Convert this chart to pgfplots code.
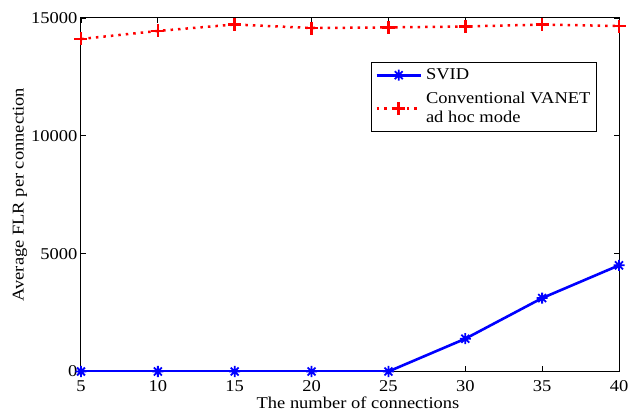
\documentclass[border=0pt]{standalone}
\usepackage{fontspec}
\setmainfont[FakeStretch=1.12]{Liberation Serif}
\usepackage{pgfplots}
\pgfplotsset{compat=1.18}
\pgfdeclareplotmark{mstar}{%
  \pgfpathmoveto{\pgfqpoint{-\pgfplotmarksize}{0pt}}\pgfpathlineto{\pgfqpoint{\pgfplotmarksize}{0pt}}%
  \pgfpathmoveto{\pgfqpoint{0pt}{-\pgfplotmarksize}}\pgfpathlineto{\pgfqpoint{0pt}{\pgfplotmarksize}}%
  \pgfpathmoveto{\pgfqpoint{-0.72\pgfplotmarksize}{-0.72\pgfplotmarksize}}\pgfpathlineto{\pgfqpoint{0.72\pgfplotmarksize}{0.72\pgfplotmarksize}}%
  \pgfpathmoveto{\pgfqpoint{-0.72\pgfplotmarksize}{0.72\pgfplotmarksize}}\pgfpathlineto{\pgfqpoint{0.72\pgfplotmarksize}{-0.72\pgfplotmarksize}}%
  \pgfusepathqstroke}
\begin{document}
\fontsize{16.5bp}{18bp}\selectfont
\begin{tikzpicture}
\useasboundingbox (-81bp,-39.5bp) rectangle (548bp,371.5bp);
\begin{axis}[
  at={(0,0)}, anchor=south west,
  scale only axis, width=538bp, height=353.5bp,
  xmin=5, xmax=40, ymin=0, ymax=15000,
  xtick={5,10,...,40}, ytick={0,5000,10000,15000},
  tick align=inside, tick pos=both,
  major tick length=5bp,
  scaled y ticks=false,
  /pgf/number format/assume math mode=true,
  yticklabel style={/pgf/number format/set thousands separator={}, inner xsep=3.5bp},
  ticklabel style={font=\fontsize{16.5bp}{18bp}\selectfont},
  xticklabel style={inner ysep=0pt, yshift=-8.5bp},
  label style={font=\fontsize{16.5bp}{18bp}\selectfont},
  xlabel={The number of connections},
  ylabel={Average FLR per connection},
  xlabel style={at={(axis description cs:0.5,0)}, anchor=base, yshift=-36.5bp, xshift=8bp},
  ylabel style={at={(axis description cs:-0.1134,0.5)}, anchor=center},
  axis line style={line width=1bp},
  every tick/.style={black, line width=0.8bp},
  legend style={at={(0.959,0.8755)}, anchor=north east, draw=black, line width=1bp,
    font=\fontsize{16.5bp}{19.5bp}\selectfont,
    inner xsep=4bp, inner ysep=4bp, row sep=6bp, column sep=2bp,
    cells={anchor=west, align=left}},
  legend cell align=left,
  legend image code/.code={%
    \draw[mark repeat=2, mark phase=2, #1] plot coordinates {(0bp,0bp) (22bp,0bp) (44bp,0bp)};},
]
\addplot[blue, line width=2.6bp, mark=mstar, mark size=5.5bp, mark options={line width=1.8bp}]
  coordinates {(5,0) (10,0) (15,0) (20,0) (25,0) (30,1390) (35,3115) (40,4505)};
\addlegendentry{SVID}
\addplot[red, line width=2.5bp, dash pattern=on 2.5bp off 5bp, mark=+, mark size=6.5bp, mark options={solid, line width=2.6bp}]
  coordinates {(5,14110) (10,14450) (15,14725) (20,14575) (25,14600) (30,14640) (35,14720) (40,14660)};
\addlegendentry{Conventional VANET\\ad hoc mode}
\end{axis}
\end{tikzpicture}
\end{document}
